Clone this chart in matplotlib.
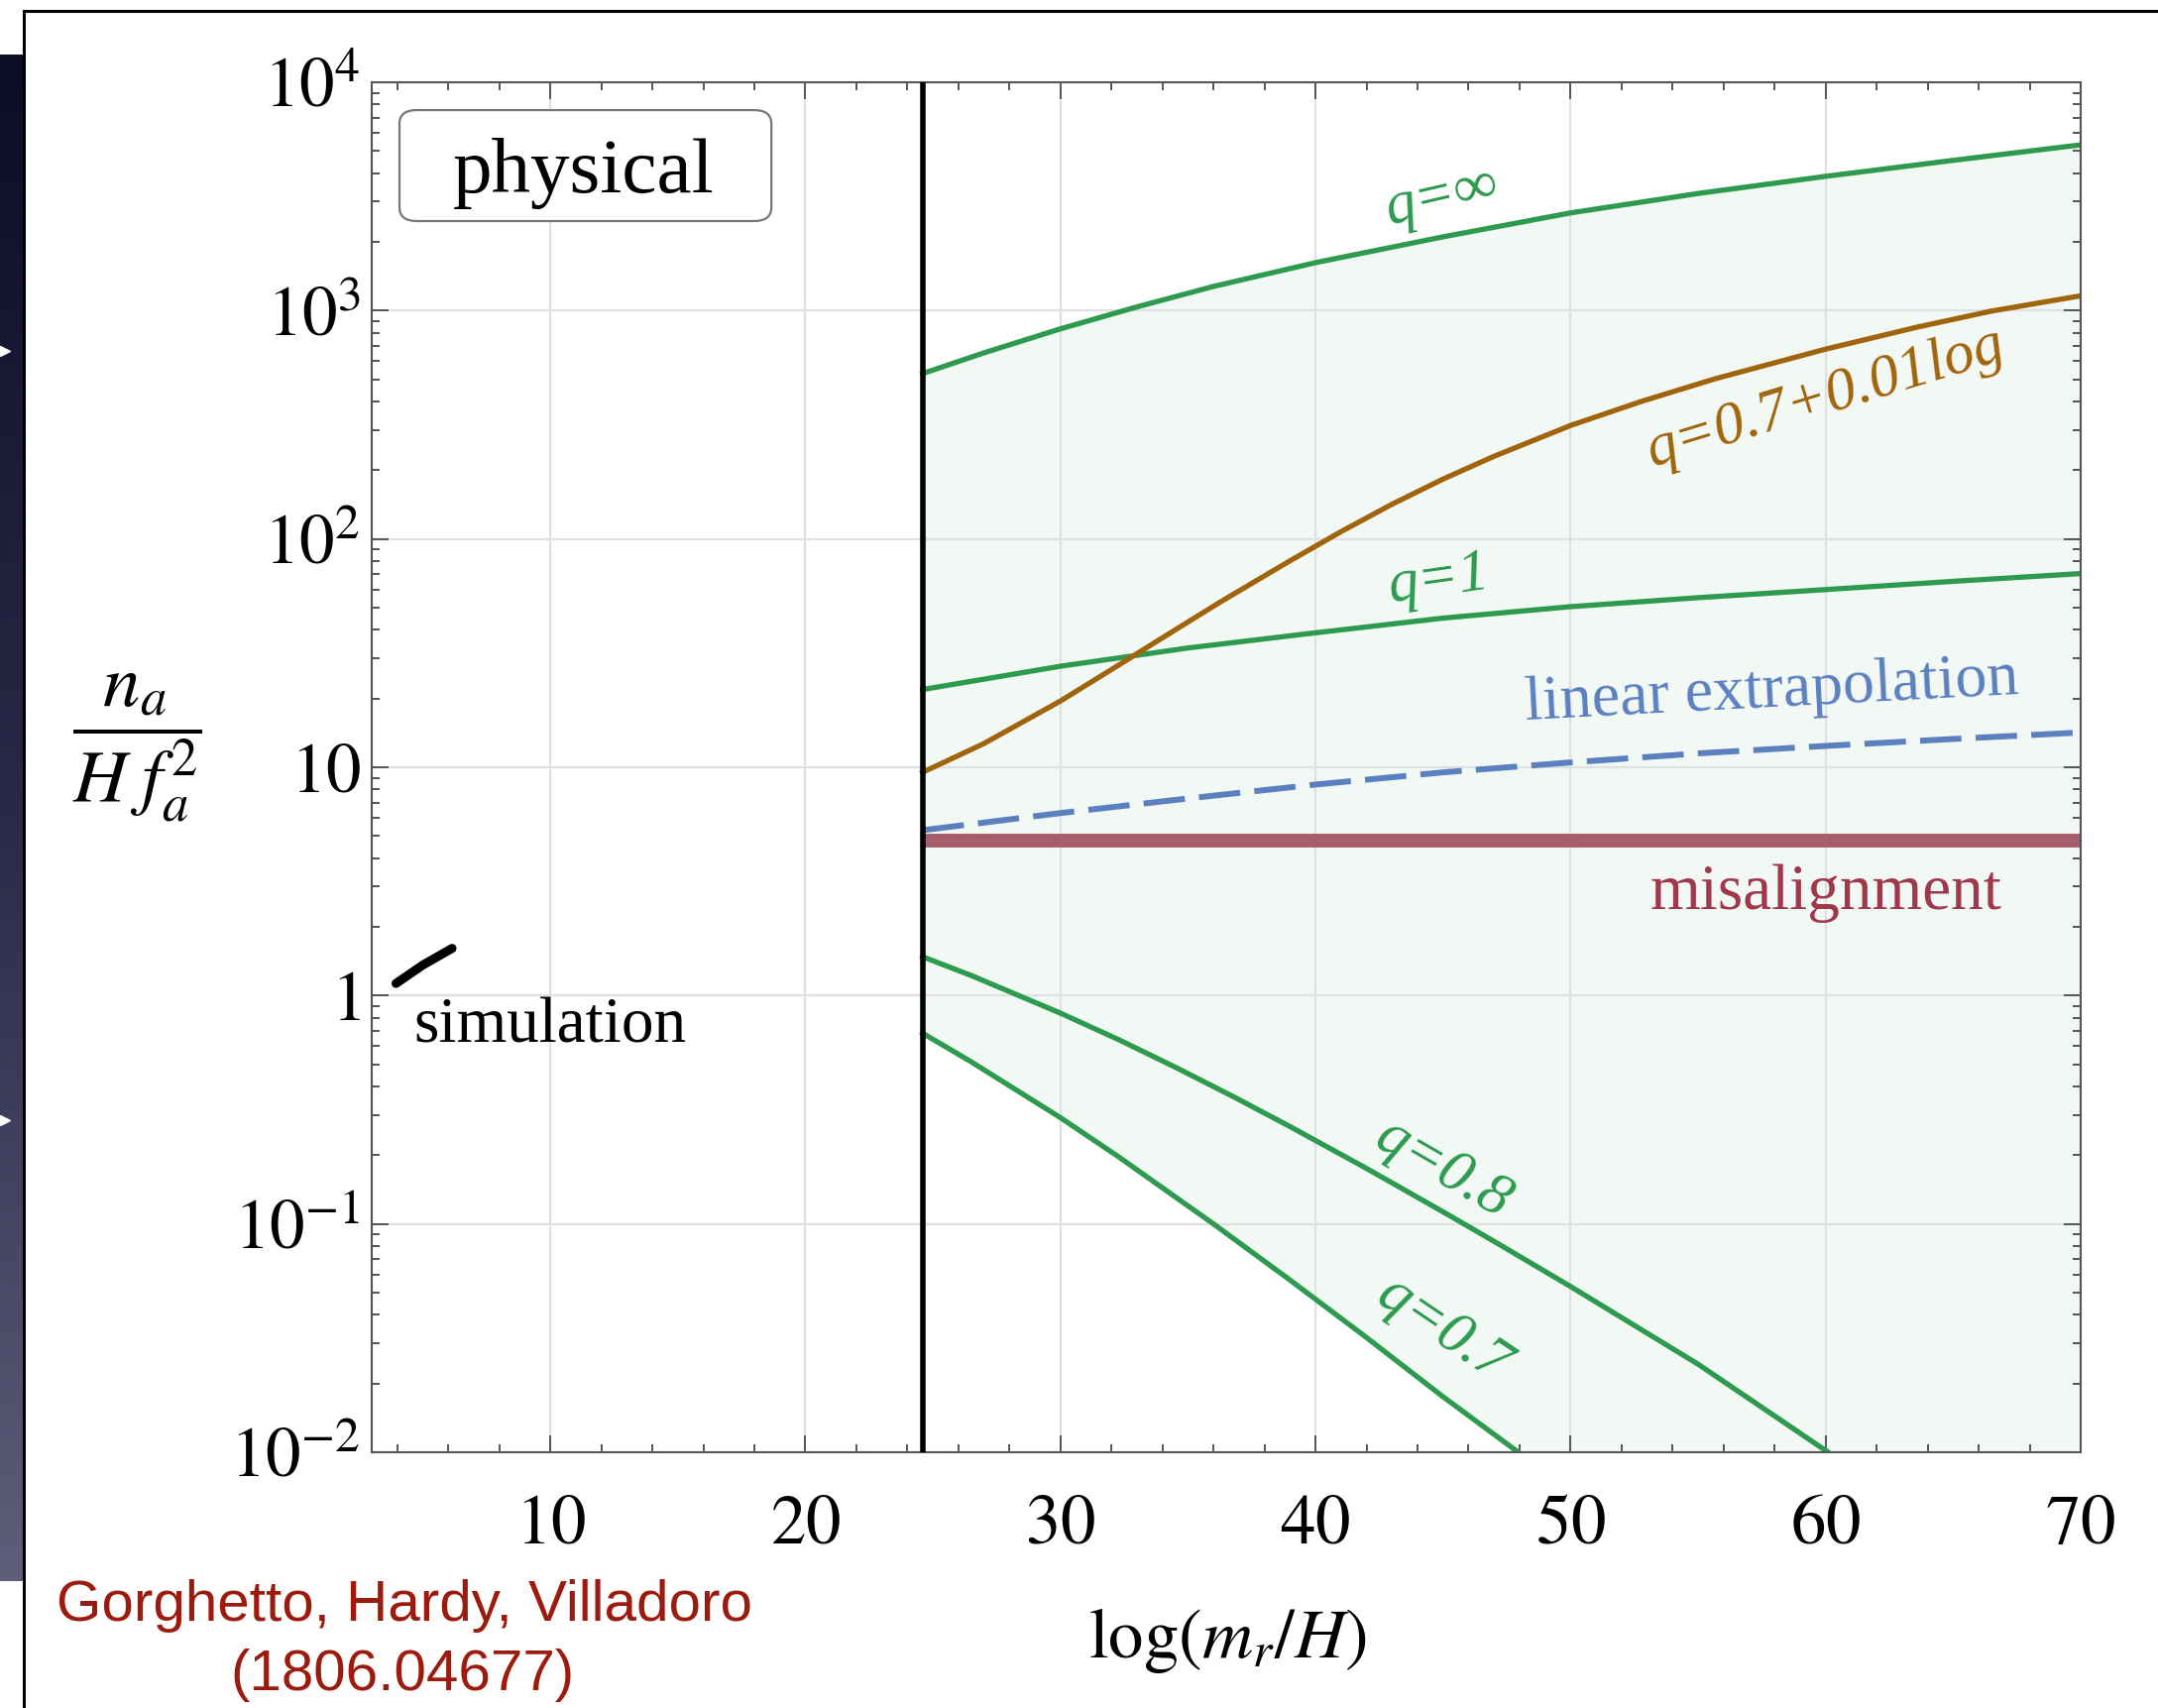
import numpy as np
import matplotlib
matplotlib.use('Agg')
import matplotlib.pyplot as plt
import matplotlib.ticker as ticker
from matplotlib.patches import FancyBboxPatch
from matplotlib.lines import Line2D
from matplotlib.colors import LinearSegmentedColormap

plt.rcParams['font.family'] = ['Liberation Serif', 'DejaVu Serif']
plt.rcParams['mathtext.fontset'] = 'stix'

# physical start of the string network, log(m_r/H)
x_start = 24.6

# curves
x_inf = [24.6, 27, 30, 33, 36, 40, 45, 50, 55, 60, 65, 70]
q_inf = [530, 653, 832, 1038, 1276, 1622, 2104, 2679, 3258, 3873, 4550, 5321]

x = [24.6, 30, 35, 40, 45, 50, 55, 60, 65, 70]
q_1 = [21.9, 27.7, 33.3, 38.8, 45.0, 50.5, 55.3, 60.0, 65.2, 70.5]
lin_extrap = [5.3, 6.3, 7.3, 8.4, 9.5, 10.5, 11.5, 12.4, 13.3, 14.2]
misalign = 4.75

x_log = [24.6, 27, 30, 32.3, 34, 36.3, 39, 41, 43, 45, 47, 50, 52.8, 55.7, 60, 63.6, 66.5, 70]
q_log = [9.51, 12.7, 19.5, 28.1, 36.9, 53.2, 80.2, 107.6, 141.9, 182.8, 230.1, 314,
         401, 504, 678, 847, 995, 1161]

x_08 = [24.6, 26.5, 30, 32.3, 34.5, 36.8, 39, 42, 45, 47, 50, 55, 60.1]
q_08 = [1.479, 1.225, 0.838, 0.640, 0.486, 0.360, 0.267, 0.175, 0.113, 0.0839, 0.0532,
        0.0243, 0.01]

x_07 = [24.6, 26.5, 30, 32.3, 36, 39, 42, 45, 47.95]
q_07 = [0.684, 0.513, 0.292, 0.196, 0.100, 0.0568, 0.0318, 0.0175, 0.01]

sim_x = [3.95, 5.0, 6.15]
sim_y = [1.13, 1.36, 1.61]

y_ticks = [1e-2, 1e-1, 1, 10, 1e2, 1e3, 1e4]
y_labels = [r'$10^{-2}$', r'$10^{-1}$', r'$1$', r'$10$', r'$10^{2}$', r'$10^{3}$', r'$10^{4}$']
x_ticks = [10, 20, 30, 40, 50, 60, 70]
x_labels = [r'$%d$' % v for v in x_ticks]

green = '#2d9a4f'
brown = '#a0650c'
blue = '#5b80c0'
red = '#a85e68'

fig = plt.figure(figsize=(21.77, 17.23), dpi=100)
ax = fig.add_axes([0.17226, 0.14974, 0.79192, 0.80209])
ax.set_yscale('log')
ax.set_xlim(3, 70)
ax.set_ylim(1e-2, 1e4)
ax.set_axisbelow('line')

# band between q=inf and q=0.7
fx = x_inf + [70] + x_07[::-1]
fy = q_inf + [0.01] + q_07[::-1]
ax.fill(fx, fy, color='#f2f8f4', lw=0, zorder=1)

ax.grid(True, which='major', color='#e0e0e0', lw=1.6)

lkw = dict(lw=3.8, solid_joinstyle='round')
ax.plot(x_inf, q_inf, color=green, **lkw)
ax.plot(x, q_1, color=green, **lkw)
ax.plot(x_log, q_log, color=brown, **lkw)
ax.plot(x_08, q_08, color=green, **lkw)
ax.plot(x_07, q_07, color=green, **lkw)
ax.plot(x, lin_extrap, color=blue, lw=4.3, linestyle=(0, (7, 2.4)))
ax.plot([x[0], x[-1]], [misalign, misalign], color=red, lw=10, solid_capstyle='butt')
ax.plot(sim_x, sim_y, color='black', lw=6.5, solid_capstyle='round')
ax.axvline(x_start, color='black', lw=4, zorder=3)

ax.yaxis.set_major_locator(ticker.FixedLocator(y_ticks))
ax.yaxis.set_major_formatter(ticker.FixedFormatter(y_labels))
ax.yaxis.set_minor_locator(ticker.LogLocator(base=10, subs=np.arange(2, 10), numticks=30))
ax.yaxis.set_minor_formatter(ticker.NullFormatter())
ax.xaxis.set_major_locator(ticker.FixedLocator(x_ticks))
ax.xaxis.set_major_formatter(ticker.FixedFormatter(x_labels))
ax.xaxis.set_minor_locator(ticker.MultipleLocator(2))

ax.tick_params(which='both', direction='in', top=True, right=True, color='#555555', width=1.4)
ax.tick_params(which='major', length=12)
ax.tick_params(which='minor', length=6)
ax.tick_params(axis='y', which='major', labelsize=51, pad=8)
ax.tick_params(axis='x', which='major', labelsize=51, pad=30)
for s in ax.spines.values():
    s.set_color('#555555')
    s.set_linewidth(1.5)

# labels on the curves
qfont = dict(fontsize=44, style='italic', ha='center', va='center')
ax.text(44.96, 3150, 'q=∞', color=green, rotation=13, **qfont)
ax.text(60.0, 414, 'q=0.7+0.01log', color=brown, rotation=17, **qfont)
ax.text(44.85, 66, 'q=1', color=green, rotation=8, **qfont)
ax.text(45.0, 0.172, 'q=0.8', color=green, rotation=-30, **qfont)
ax.text(45.0, 0.034, 'q=0.7', color=green, rotation=-34, **qfont)
ax.text(57.9, 16.2, 'linear extrapolation', color=blue, fontsize=46, rotation=3,
        ha='center', va='baseline')
ax.text(60.0, 2.39, 'misalignment', color='#a0384c', fontsize=47, ha='center', va='baseline')
ax.text(10.0, 0.625, 'simulation', color='black', fontsize=47, ha='center', va='baseline')

box = FancyBboxPatch((0.01624, 0.8987), 0.2176, 0.081, boxstyle='round,pad=0,rounding_size=0.01',
                     transform=ax.transAxes, fc='white', ec='#777777', lw=1.6, zorder=4)
ax.add_patch(box)
ax.text(0.1241, 0.92, 'physical', transform=ax.transAxes, fontsize=57, ha='center',
        va='baseline', zorder=5)

fig.text(0.0634, 0.5624, r'$\dfrac{n_a}{H\;f_a^2}$', fontsize=54, ha='center', va='center')
fig.text(0.5687, 0.0395, r'$\log(m_r/H)$', fontsize=51, ha='center', va='center')

fig.text(0.1872, 0.0511, 'Gorghetto, Hardy, Villadoro', color='#9b1b0e', fontsize=42,
         family='Liberation Sans', ha='center', va='baseline')
fig.text(0.1865, 0.0104, '(1806.04677)', color='#9b1b0e', fontsize=42,
         family='Liberation Sans', ha='center', va='baseline')

# slide background strip on the left
sax = fig.add_axes([0, 0.0743, 23 / 2177, 0.8937])
cmap = LinearSegmentedColormap.from_list('slide', ['#0b0c26', '#2a2a48', '#5e5d7a'])
sax.imshow(np.linspace(0, 1, 256).reshape(-1, 1), aspect='auto', cmap=cmap, extent=[0, 1, 0, 1])
sax.plot([0.2, 0.2], [0.806, 0.302], '>', color='white', ms=7, lw=0)
sax.set_xlim(0, 1)
sax.set_ylim(0, 1)
sax.axis('off')

fig.add_artist(Line2D([24 / 2177, 24 / 2177], [0, 1 - 11 / 1723], transform=fig.transFigure,
                      color='black', lw=2.2))
fig.add_artist(Line2D([24 / 2177, 1], [1 - 11 / 1723, 1 - 11 / 1723], transform=fig.transFigure,
                      color='black', lw=2.2))

fig.savefig('out.png', dpi=100)
